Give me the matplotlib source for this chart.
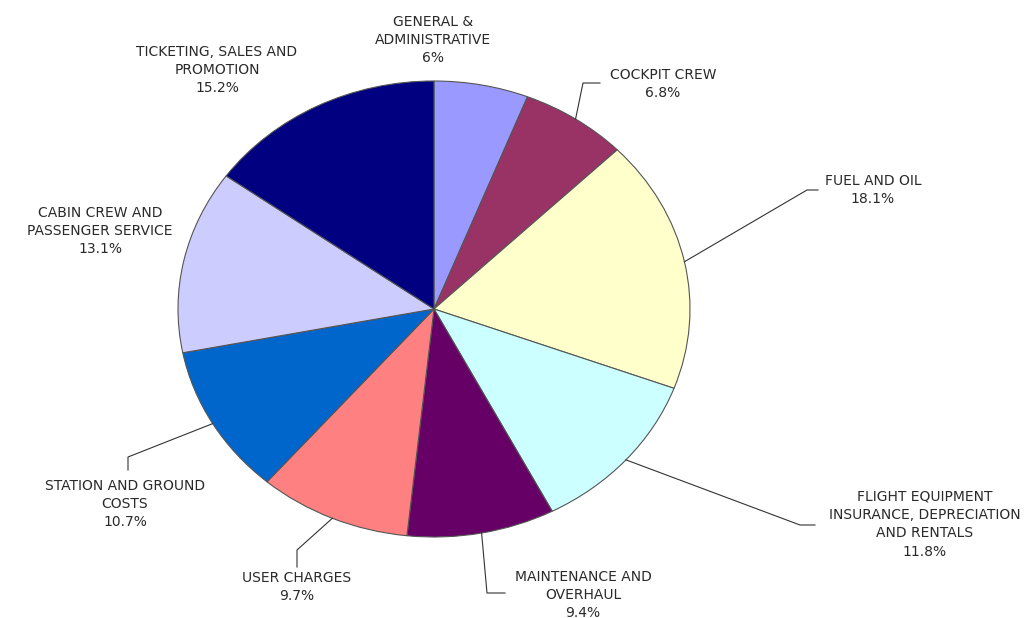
import matplotlib
matplotlib.use("Agg")
import numpy as np
import matplotlib.pyplot as plt

# cost shares (%), clockwise from 12 o'clock
categories = ["GENERAL &\nADMINISTRATIVE", "COCKPIT CREW", "FUEL AND OIL",
              "FLIGHT EQUIPMENT\nINSURANCE, DEPRECIATION\nAND RENTALS",
              "MAINTENANCE AND\nOVERHAUL", "USER CHARGES",
              "STATION AND GROUND\nCOSTS", "CABIN CREW AND\nPASSENGER SERVICE",
              "TICKETING, SALES AND\nPROMOTION"]
shares = [6, 6.8, 18.1, 11.8, 9.4, 9.7, 10.7, 13.1, 15.2]
share_labels = ["6%", "6.8%", "18.1%", "11.8%", "9.4%", "9.7%", "10.7%", "13.1%", "15.2%"]
colors = ["#9999FF", "#993366", "#FFFFCC", "#CCFFFF", "#660066",
          "#FF8080", "#0066CC", "#CCCCFF", "#000080"]

W, H = 1036, 618
CX, CY, RX, RY = 434, 309, 256, 228   # pie centre / radii in pixels


def px(x, y):
    # pixel position -> data coordinates of the pie axes
    return (x - CX) / RX, (CY - y) / RY


fig = plt.figure(figsize=(W / 100, H / 100), dpi=100)
ax = fig.add_axes([0, 0, 1, 1])
wedges, _ = ax.pie(shares, colors=colors, startangle=90, counterclock=False,
                   radius=1, center=(0, 0),
                   wedgeprops=dict(edgecolor="#555555", linewidth=0.8))
ax.set_aspect("auto")
ax.set_xlim(-CX / RX, (W - CX) / RX)
ax.set_ylim(-(H - CY) / RY, CY / RY)
ax.axis("off")

# label centre (px) and leader elbow/end points (px), None = no leader
label_pos = [(433, 40), (663, 84), (873, 190), (925, 524), (583, 595),
             (297, 587), (125, 504), (100, 231), (217, 70)]
leaders = [None,
           [(583, 83), (600, 83)],
           [(807, 190), (818, 190)],
           [(800, 525), (815, 525)],
           [(487, 593), (505, 593)],
           [(297, 550), (297, 567)],
           [(128, 457), (128, 470)],
           None, None]

for w, cat, lab, pos, lead in zip(wedges, categories, share_labels, label_pos, leaders):
    ax.text(*px(*pos), cat + "\n" + lab, ha="center", va="center",
            fontsize=10, color="#2a2a2a", family="DejaVu Sans",
            linespacing=1.4)
    if lead is None:
        continue
    mid = np.deg2rad((w.theta1 + w.theta2) / 2)
    xs = [np.cos(mid)] + [px(*p)[0] for p in lead]
    ys = [np.sin(mid)] + [px(*p)[1] for p in lead]
    ax.plot(xs, ys, color="#333333", linewidth=0.8)

fig.savefig("out.png", dpi=100)
